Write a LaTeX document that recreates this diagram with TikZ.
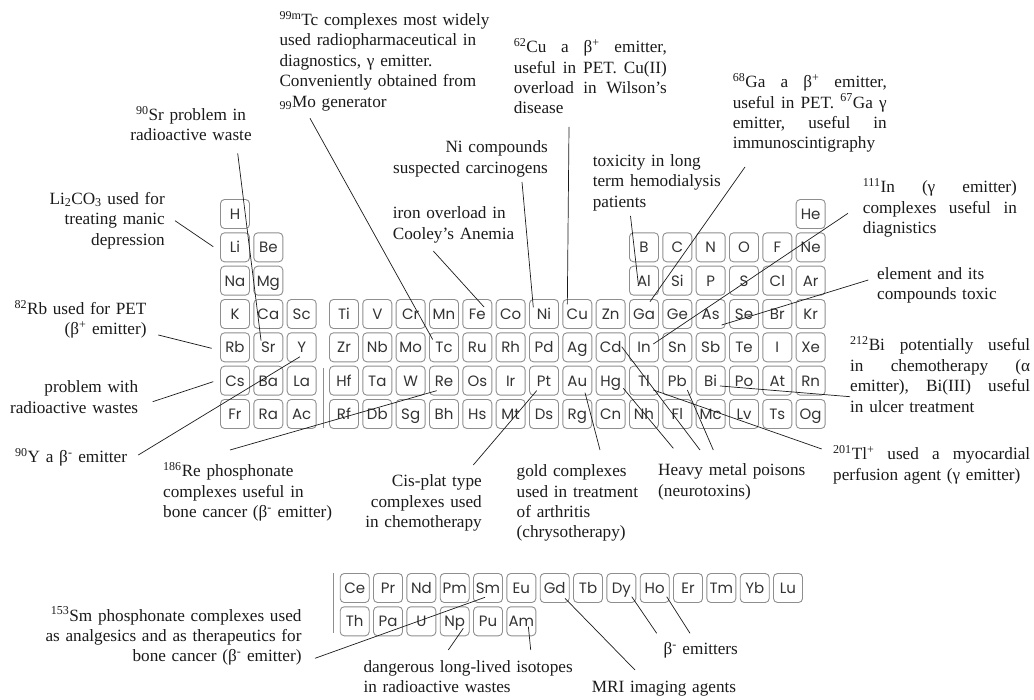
\documentclass[tikz,border=0pt]{standalone}
\usepackage{fontspec}
\setmainfont{Liberation Serif}
\newfontfamily\elfont{Poppins}
\usetikzlibrary{calc}

\definecolor{boxline}{HTML}{8E8E8E}
\definecolor{symtext}{HTML}{333333}
\definecolor{ink}{HTML}{1A1A1A}

% one fully justified line of a given width; words are separated by \hfill
\newcommand\jline[2]{\leavevmode\hbox to #1{#2}}

\tikzset{
  elem/.style={draw=boxline, line width=0.9pt, rounded corners=4pt,
    minimum width=29pt, minimum height=29pt, inner sep=0pt,
    text height=10.8pt, text depth=0pt,
    font=\elfont\fontsize{15}{15}\selectfont, text=symtext},
  conn/.style={draw=ink, line width=0.7pt},
  sepline/.style={draw=boxline, line width=0.9pt},
  lab/.style={inner sep=0pt, text=ink, text width=#1,
    font=\fontsize{17.2}{20.4}\selectfont},
  labl/.style={lab=#1, align=left, anchor=base west},
  labr/.style={lab=#1, align=right, anchor=base east},
  labc/.style={lab=#1, align=center, anchor=base},
}

\begin{document}
\begin{tikzpicture}[x=1pt, y=-1pt]
\useasboundingbox (0,0) rectangle (1034,700);

% ---------- main table: rows 1-3 ----------
\foreach \s/\c/\r in {H/1/1,He/18/1,
    Li/1/2,Be/2/2,B/13/2,C/14/2,N/15/2,O/16/2,F/17/2,Ne/18/2,
    Na/1/3,Mg/2/3,Al/13/3,Si/14/3,P/15/3,S/16/3,Cl/17/3,Ar/18/3}{
  \pgfmathsetmacro\xx{\c<4 ? 235+(\c-1)*33.333 : 344+(\c-4)*33.333}
  \pgfmathsetmacro\yy{214+(\r-1)*33.333}
  \node[elem] (\s) at (\xx,\yy) {\s};
}
% ---------- main table: rows 4-7 ----------
\foreach \row [count=\r from 4] in {
    {K,Ca,Sc,Ti,V,Cr,Mn,Fe,Co,Ni,Cu,Zn,Ga,Ge,As,Se,Br,Kr},
    {Rb,Sr,Y,Zr,Nb,Mo,Tc,Ru,Rh,Pd,Ag,Cd,In,Sn,Sb,Te,I,Xe},
    {Cs,Ba,La,Hf,Ta,W,Re,Os,Ir,Pt,Au,Hg,Tl,Pb,Bi,Po,At,Rn},
    {Fr,Ra,Ac,Rf,Db,Sg,Bh,Hs,Mt,Ds,Rg,Cn,Nh,Fl,Mc,Lv,Ts,Og}}{
  \foreach \s [count=\c] in \row {
    \pgfmathsetmacro\xx{\c<4 ? 235+(\c-1)*33.333 : 344+(\c-4)*33.333}
    \pgfmathsetmacro\yy{214+(\r-1)*33.333}
    \node[elem] (\s) at (\xx,\yy) {\s};
  }
}
\draw[sepline] (323.3,368) -- (323.3,428);

% ---------- f-block ----------
\foreach \s [count=\i from 0] in {Ce,Pr,Nd,Pm,Sm,Eu,Gd,Tb,Dy,Ho,Er,Tm,Yb,Lu}
  \node[elem] (\s) at ({354.7+\i*33.333},588) {\s};
\foreach \s [count=\i from 0] in {Th,Pa,U,Np,Pu,Am}
  \node[elem] (\s) at ({354.7+\i*33.333},621.3) {\s};
\draw[sepline] (333,573) -- (333,633);

% ---------- annotations ----------
\node[labl=260pt] (tTc) at (279.3,25.5) {\textsuperscript{99m}Tc complexes most widely\\used radiopharmaceutical in\\diagnostics, γ emitter.\\Conveniently obtained from\\\textsubscript{99}Mo generator};
\node[labc=140pt] (tSr) at (191,120.5) {\textsuperscript{90}Sr problem in\\radioactive waste};
\node[labr=160pt] (tLi) at (165,204.3) {Li\textsubscript{2}CO\textsubscript{3} used for\\treating manic\\depression};
\node[labr=160pt] (tRb) at (146.7,314.3) {\textsuperscript{82}Rb used for PET\\(β\textsuperscript{+} emitter)};
\node[labr=160pt] (tCs) at (138.3,392.7) {problem with\\radioactive wastes};
\node[labl=160pt] (tY) at (15,462.7) {\textsuperscript{90}Y a β\textsuperscript{-} emitter};
\node[labl=200pt] (tRe) at (163,476.7) {\textsuperscript{186}Re phosphonate\\complexes useful in\\bone cancer (β\textsuperscript{-} emitter)};
\node[labr=130pt] (tPt) at (482,486.7) {Cis-plat type\\complexes used\\in chemotherapy};
\node[labl=150pt] (tAu) at (516.5,476.7) {gold complexes\\used in treatment\\of arthritis\\(chrysotherapy)};
\node[labl=170pt] (tHv) at (658,476) {Heavy metal poisons\\(neurotoxins)};
\node[labl=197pt] (tTl) at (833,460) {\jline{197pt}{\textsuperscript{201}Tl\textsuperscript{+}\hfill used\hfill a\hfill myocardial}\\perfusion agent (γ emitter)};
\node[labl=180pt] (tBi) at (850,351) {\jline{180pt}{\textsuperscript{212}Bi\hfill potentially\hfill useful}\\\jline{180pt}{in\hfill chemotherapy\hfill (α}\\\jline{180pt}{emitter),\hfill Bi(III)\hfill useful}\\in ulcer treatment};
\node[labl=150pt] (tAs) at (877,279.3) {element and its\\compounds toxic};
\node[labl=154pt] (tIn) at (862.7,192.7) {\jline{154pt}{\textsuperscript{111}In\hfill (γ\hfill emitter)}\\\jline{154pt}{complexes\hfill useful\hfill in}\\diagnistics};
\node[labl=154pt] (tGa) at (732.6,87.7) {\jline{154pt}{\textsuperscript{68}Ga\hfill a\hfill β\textsuperscript{+}\hfill emitter,}\\\jline{154pt}{useful\hfill in\hfill PET.\hfill \textsuperscript{67}Ga\hfill γ}\\\jline{154pt}{emitter,\hfill useful\hfill in}\\immunoscintigraphy};
\node[labl=153pt] (tCu) at (513.6,52.7) {\jline{153pt}{\textsuperscript{62}Cu\hfill a\hfill β\textsuperscript{+}\hfill emitter,}\\\jline{153pt}{useful\hfill in\hfill PET.\hfill Cu(II)}\\\jline{153pt}{overload\hfill in\hfill Wilson’s}\\disease};
\node[labl=150pt] (tAl) at (592.6,166.5) {toxicity in long\\term hemodialysis\\patients};
\node[labr=170pt] (tNi) at (548,152.7) {Ni compounds\\suspected carcinogens};
\node[labl=150pt] (tFe) at (392.7,218.7) {iron overload in\\Cooley’s Anemia};
\node[labr=300pt] (tSm) at (301.7,621) {\textsuperscript{153}Sm phosphonate complexes used\\as analgesics and as therapeutics for\\bone cancer (β\textsuperscript{-} emitter)};
\node[labl=250pt] (tNp) at (363.3,672) {dangerous long-lived isotopes\\in radioactive wastes};
\node[labl=200pt] (tGd) at (591.7,692) {MRI imaging agents};
\node[labl=150pt] (tDy) at (663.3,654.3) {β\textsuperscript{-} emitters};

% ---------- leader ends beside the annotations ----------
\coordinate (cLi) at (175,220.7);
\coordinate (cSr) at (237.7,153.3);
\coordinate (cRb) at (158.3,335);
\coordinate (cCs) at (152.7,401.7);
\coordinate (cY)  at (138.3,455);
\coordinate (cRe) at (230,450);
\coordinate (cTc) at (310,118.3);
\coordinate (cFe) at (433.3,251);
\coordinate (cNi) at (522,182);
\coordinate (cCu) at (569,127);
\coordinate (cPt) at (473.3,465);
\coordinate (cAu) at (600,450);
\coordinate (cAl) at (630.5,216);
\coordinate (cGa) at (745,167);
\coordinate (cIn) at (848,213.3);
\coordinate (cAs) at (868.3,280);
\coordinate (cBi) at (850,396.7);
\coordinate (cTl) at (821.7,449);
\coordinate (cCd) at (700,450);
\coordinate (cHg) at (673.3,448.3);
\coordinate (cPb) at (713.3,450);
\coordinate (cSm) at (315,658.3);
\coordinate (cNp) at (448.3,650);
\coordinate (cAm) at (530.7,650);
\coordinate (cGd) at (635,670);
\coordinate (cDy) at (656.7,633.3);
\coordinate (cHo) at (690,633.3);

% ---------- leaders ----------
\draw[conn] (cLi) -- ([shift={(-21.7,-0.6)}]Li.center);
\draw[conn] (cSr) -- ([shift={(-7.3,-6.8)}]Sr.center);
\draw[conn] (cRb) -- ([shift={(-23.3,1)}]Rb.center);
\draw[conn] (cCs) -- ([shift={(-21.7,1)}]Cs.center);
\draw[conn] (cY)  -- ([shift={(-1.7,9.4)}]Y.center);
\draw[conn] (cRe) -- ([shift={(-7.3,10)}]Re.center);
\draw[conn] (cTc) -- ([shift={(-11.3,-7.8)}]Tc.center);
\draw[conn] (cFe) -- ([shift={(6.7,-7)}]Fe.center);
\draw[conn] (cNi) -- ([shift={(-10.7,-6.7)}]Ni.center);
\draw[conn] (cCu) -- ([shift={(-10,-9.7)}]Cu.center);
\draw[conn] (cPt) -- ([shift={(-7.3,10)}]Pt.center);
\draw[conn] (cAu) -- ([shift={(7.7,12)}]Au.center);
\draw[conn] (cAl) -- ([shift={(-5.7,3.3)}]Al.center);
\draw[conn] (cGa) -- ([shift={(6,-12.3)}]Ga.center);
\draw[conn] (cIn) -- ([shift={(9.3,-3.3)}]In.center);
\draw[conn] (cAs) -- ([shift={(11,11)}]As.center);
\draw[conn] (cBi) -- ([shift={(9.3,5.3)}]Bi.center);
\draw[conn] (cTl) -- ([shift={(9.3,9.3)}]Tl.center);
\draw[conn] (cCd) -- ([shift={(11,-0.6)}]Cd.center);
\draw[conn] (cHg) -- ([shift={(12.6,7.6)}]Hg.center);
\draw[conn] (cPb) -- ([shift={(10,9.3)}]Pb.center);
\draw[conn] (cSm) -- ([shift={(-3,9.3)}]Sm.center);
\draw[conn] (cNp) -- ([shift={(8.6,7)}]Np.center);
\draw[conn] (cAm) -- ([shift={(7,5.4)}]Am.center);
\draw[conn] (cGd) -- ([shift={(10.3,10.3)}]Gd.center);
\draw[conn] (cDy) -- ([shift={(10.4,8.7)}]Dy.center);
\draw[conn] (cHo) -- ([shift={(12,8.7)}]Ho.center);
\end{tikzpicture}
\end{document}
